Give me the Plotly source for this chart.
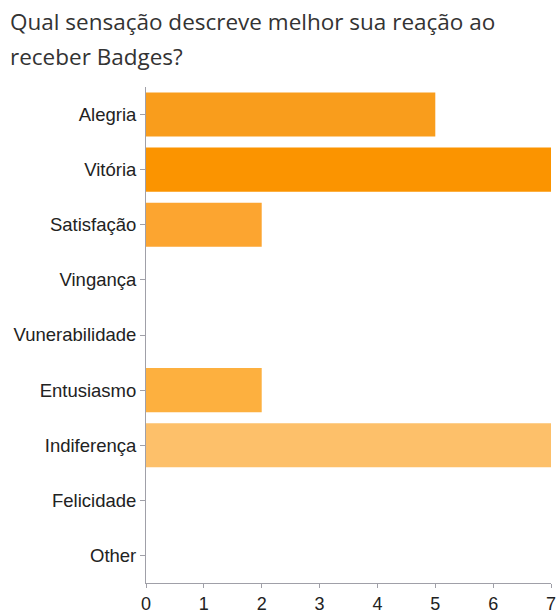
import plotly.graph_objects as go

categories = ["Alegria", "Vitória", "Satisfação", "Vingança", "Vunerabilidade",
              "Entusiasmo", "Indiferença", "Felicidade", "Other"]
values = [5, 7, 2, 0, 0, 2, 7, 0, 0]
colors = ["#f99d1c", "#fb9400", "#fca530", "#fca530", "#fca530",
          "#fdb03f", "#fdc06a", "#fdc06a", "#fdc06a"]
x_ticks = [0, 1, 2, 3, 4, 5, 6, 7]
title_lines = ["Qual sensação descreve melhor sua reação ao", "receber Badges?"]

W, H = 556, 613

fig = go.Figure(go.Bar(
    x=values, y=categories, orientation="h",
    marker=dict(color=colors, line=dict(width=0)),
    hoverinfo="x+y",
))

title_font = dict(family="Open Sans, Noto Sans, sans-serif", size=22.5, weight=500, color="#333333")
for i, (line, ypx) in enumerate(zip(title_lines, [22, 57])):
    fig.add_annotation(
        text=line, xref="paper", yref="paper",
        x=-(146 - 8) / (W - 146 - 5), xanchor="left",
        y=1 + (87 - ypx) / (H - 87 - 30), yanchor="middle",
        showarrow=False, font=title_font,
    )

fig.update_layout(
    width=W, height=H,
    margin=dict(l=146, r=5, t=87, b=30),
    paper_bgcolor="white", plot_bgcolor="white",
    bargap=0.2,
    showlegend=False,
    font=dict(family="Liberation Sans, Arial, sans-serif", size=18, color="#222222"),
)

fig.update_xaxes(
    range=[0, 7], tickvals=x_ticks, showgrid=False, zeroline=False,
    showline=True, linecolor="#a0a0a8", linewidth=1,
    ticks="outside", ticklen=4, tickcolor="#a0a0a8",
    tickfont=dict(size=18, color="#222222"), automargin=False,
    ticklabeloverflow="allow",
)
fig.update_yaxes(
    categoryorder="array", categoryarray=categories, autorange="reversed",
    showgrid=False, zeroline=False,
    showline=True, linecolor="#a0a0a8", linewidth=1,
    ticks="outside", ticklen=5, tickcolor="#a0a0a8",
    tickfont=dict(size=18.5, color="#222222"), automargin=False,
)

fig.write_html("out.html")
